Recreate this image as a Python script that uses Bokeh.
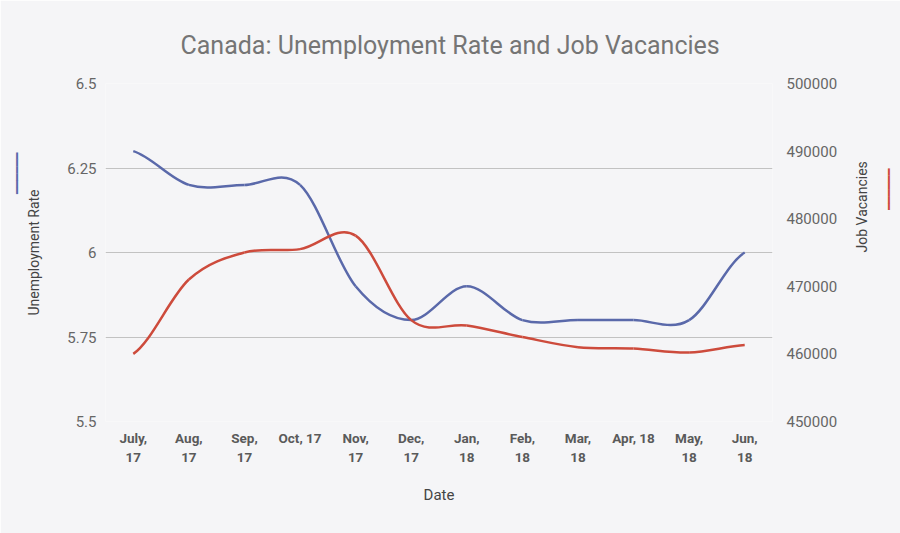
import math
import numpy as np
from bokeh.plotting import figure
from bokeh.models import (ColumnDataSource, Range1d, LinearAxis, FixedTicker,
                          Title)
from bokeh.embed import file_html
from bokeh.resources import INLINE

# ---- data -------------------------------------------------------------
months = ["July,\n17", "Aug,\n17", "Sep,\n17", "Oct, 17", "Nov,\n17", "Dec,\n17",
          "Jan,\n18", "Feb,\n18", "Mar,\n18", "Apr, 18", "May,\n18", "Jun,\n18"]
unemployment_rate = [6.3, 6.2, 6.2, 6.2, 5.9, 5.8, 5.9, 5.8, 5.8, 5.8, 5.8, 6.0]
job_vacancies = [460000, 471000, 475000, 475500, 477500, 465000,
                 464200, 462500, 461000, 460800, 460200, 461300]

rate_ticks = [5.5, 5.75, 6, 6.25, 6.5]
rate_tick_labels = ["5.5", "5.75", "6", "6.25", "6.5"]
vacancy_ticks = [450000, 460000, 470000, 480000, 490000, 500000]
vacancy_tick_labels = ["450000", "460000", "470000", "480000", "490000", "500000"]

BG = "#f5f5f7"
BLUE = "#5a69aa"
RED = "#cd4b3c"
FONT = "Roboto"


def smooth_segments(values):
    """Cubic Bezier segments (Catmull-Rom style) passing through each value."""
    y = np.asarray(values, dtype=float)
    n = len(y)
    x = np.arange(n, dtype=float)
    prev = np.concatenate([[y[0]], y[:-2]])
    nxt2 = np.concatenate([y[2:], [y[-1]]])
    return dict(
        x0=x[:-1], y0=y[:-1], x1=x[1:], y1=y[1:],
        cx0=x[:-1] + 1 / 3, cy0=y[:-1] + (y[1:] - prev) / 6,
        cx1=x[1:] - 1 / 3, cy1=y[1:] - (nxt2 - y[:-1]) / 6,
    )


p = figure(width=900, height=533, output_backend="svg", toolbar_location=None,
           x_range=Range1d(-0.5, len(months) - 0.5),
           y_range=Range1d(rate_ticks[0], rate_ticks[-1]),
           min_border_left=105, min_border_right=128,
           min_border_top=83, min_border_bottom=112)
p.title = None
p.extra_y_ranges = {"vac": Range1d(vacancy_ticks[0], vacancy_ticks[-1])}

p.background_fill_color = BG
p.border_fill_color = BG
p.outline_line_color = None

# title
p.add_layout(Title(text="Canada: Unemployment Rate and Job Vacancies",
                   align="left", offset=75, standoff=47,
                   text_font=FONT, text_font_size="25px",
                   text_font_style="normal", text_color="#757575"), "above")

# series
p.bezier(x0="x0", y0="y0", x1="x1", y1="y1", cx0="cx0", cy0="cy0",
         cx1="cx1", cy1="cy1", source=ColumnDataSource(smooth_segments(unemployment_rate)),
         line_color=BLUE, line_width=2.5)
p.bezier(x0="x0", y0="y0", x1="x1", y1="y1", cx0="cx0", cy0="cy0",
         cx1="cx1", cy1="cy1", source=ColumnDataSource(smooth_segments(job_vacancies)),
         line_color=RED, line_width=2.5, y_range_name="vac")

# grid
p.xgrid.visible = False
p.ygrid.ticker = FixedTicker(ticks=rate_ticks)
p.ygrid.grid_line_color = "#c2c2c2"
p.ygrid.grid_line_width = 1

# x axis
xa = p.xaxis[0]
xa.ticker = FixedTicker(ticks=list(range(len(months))))
xa.major_label_overrides = {i: m for i, m in enumerate(months)}
xa.major_label_text_font = FONT
xa.major_label_text_font_style = "bold"
xa.major_label_text_font_size = "13.5px"
xa.major_label_text_color = "#5a5a5a"
xa.major_label_standoff = 2
xa.axis_label = "Date"
xa.axis_label_text_font = FONT
xa.axis_label_text_font_style = "normal"
xa.axis_label_text_font_size = "15px"
xa.axis_label_text_color = "#444444"
xa.axis_label_standoff = 18

# left axis
ya = p.yaxis[0]
ya.ticker = FixedTicker(ticks=rate_ticks)
ya.major_label_overrides = dict(zip(rate_ticks, rate_tick_labels))
ya.axis_label = "Unemployment Rate"
ya.axis_label_standoff = 22
ya.major_label_standoff = 3

# right axis
ra = LinearAxis(y_range_name="vac", ticker=FixedTicker(ticks=vacancy_ticks))
ra.major_label_overrides = dict(zip(vacancy_ticks, vacancy_tick_labels))
ra.axis_label = "Job Vacancies"
ra.axis_label_standoff = 22
ra.major_label_standoff = 8
if "axis_label_orientation" in ra.properties():
    ra.axis_label_orientation = math.pi / 2
p.add_layout(ra, "right")

for ax in (ya, ra):
    ax.major_label_text_font = FONT
    ax.major_label_text_font_size = "15px"
    ax.major_label_text_color = "#666666"
    ax.axis_label_text_font = FONT
    ax.axis_label_text_font_style = "normal"
    ax.axis_label_text_font_size = "14px"
    ax.axis_label_text_color = "#444444"

for ax in (xa, ya, ra):
    ax.axis_line_color = None
    ax.major_tick_line_color = None
    ax.minor_tick_line_color = None

# series keys: a short heavy stroke beside each axis title
KEY = "\u2501" * 6
p.add_layout(Title(text=KEY, align="right", offset=69, standoff=0,
                   text_font="DejaVu Sans", text_font_size="11.5px",
                   text_color=BLUE), "left")
p.add_layout(Title(text=KEY, align="left", offset=85, standoff=0,
                   text_font="DejaVu Sans", text_font_size="11.5px",
                   text_color=RED), "right")

open("out.html", "w").write(file_html(p, INLINE))
